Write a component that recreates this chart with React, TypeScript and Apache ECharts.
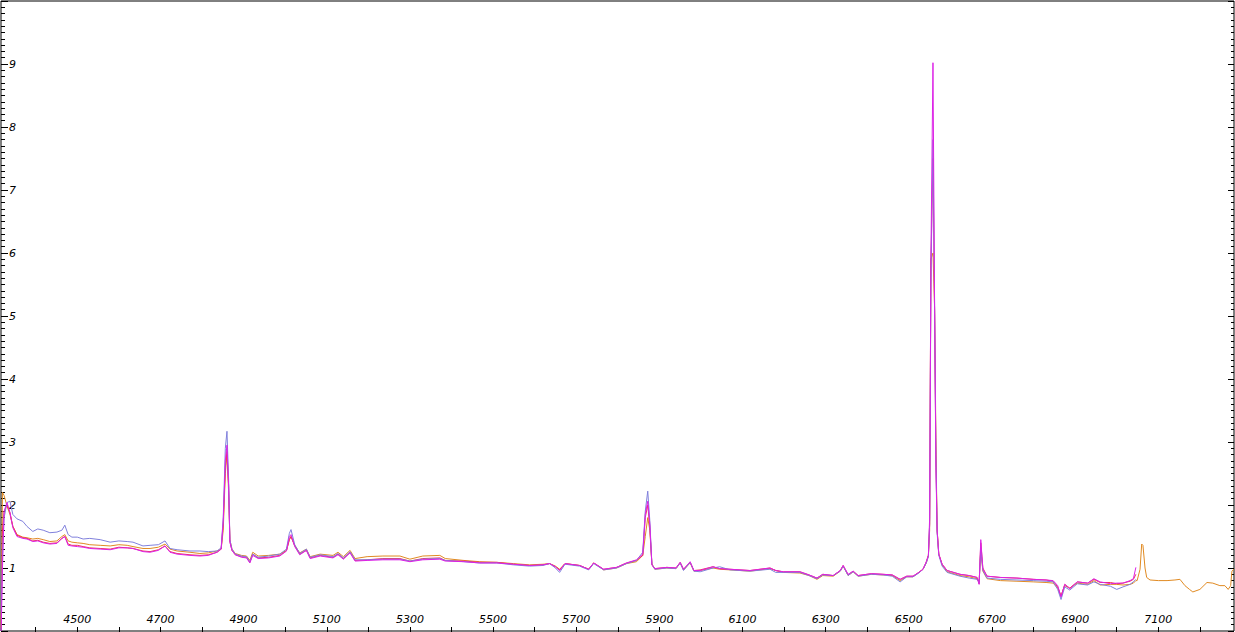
import React, { useEffect, useRef } from "react";
import * as echarts from "echarts";

const wavelengths = [
  4317, 4320, 4324, 4331, 4338, 4345, 4355, 4369, 4379, 4393,
  4405, 4418, 4434, 4451, 4463, 4470, 4478, 4487, 4500, 4514,
  4530, 4555, 4579, 4600, 4620, 4634, 4658, 4675, 4695, 4711,
  4723, 4740, 4771, 4795, 4815, 4836, 4846, 4851, 4856, 4860,
  4864, 4867, 4872, 4880, 4895, 4907, 4915, 4922, 4935, 4960,
  4987, 5003, 5010, 5014, 5023, 5035, 5051, 5060, 5084, 5115,
  5127, 5140, 5156, 5168, 5197, 5235, 5276, 5300, 5331, 5372,
  5385, 5430, 5468, 5509, 5549, 5588, 5620, 5636, 5650, 5660,
  5673, 5708, 5730, 5742, 5766, 5797, 5821, 5845, 5860, 5866,
  5872, 5877, 5882, 5889, 5918, 5940, 5950, 5958, 5974, 5983,
  5998, 6029, 6045, 6070, 6118, 6166, 6180, 6198, 6238, 6260,
  6279, 6293, 6318, 6335, 6342, 6354, 6366, 6378, 6410, 6438,
  6460, 6479, 6495, 6510, 6524, 6534, 6542, 6547, 6550, 6553,
  6558, 6562, 6565, 6568, 6572, 6580, 6592, 6623, 6645, 6664,
  6669, 6673, 6678, 6688, 6720, 6760, 6799, 6830, 6847, 6858,
  6866, 6875, 6887, 6905, 6930, 6945, 6960, 6985, 7000, 7015,
  7032, 7040, 7046,
];

const orangeFlux = [
  0.05, 2.2, 2.15, 1.98, 1.85, 1.66, 1.53, 1.49, 1.48, 1.46,
  1.47, 1.45, 1.42, 1.43, 1.5, 1.53, 1.43, 1.41, 1.4, 1.39,
  1.37, 1.36, 1.35, 1.37, 1.36, 1.34, 1.31, 1.31, 1.33, 1.38,
  1.3, 1.27, 1.25, 1.23, 1.24, 1.27, 1.3, 1.6, 2.5, 2.8,
  2.2, 1.45, 1.3, 1.23, 1.2, 1.19, 1.12, 1.25, 1.19, 1.2,
  1.22, 1.28, 1.45, 1.5, 1.36, 1.24, 1.3, 1.18, 1.22, 1.2,
  1.25, 1.18, 1.28, 1.15, 1.18, 1.19, 1.19, 1.14, 1.19, 1.2,
  1.15, 1.12, 1.1, 1.09, 1.07, 1.05, 1.06, 1.07, 1.03, 0.98,
  1.07, 1.04, 0.98, 1.08, 0.97, 1.0, 1.07, 1.1, 1.2, 1.5,
  1.8, 1.6, 1.07, 0.98, 1.0, 0.99, 1.08, 0.97, 1.08, 0.95,
  0.96, 1.0, 0.98, 0.97, 0.95, 0.99, 0.96, 0.93, 0.92, 0.88,
  0.82, 0.88, 0.87, 0.95, 1.03, 0.88, 0.94, 0.87, 0.9, 0.89,
  0.88, 0.8, 0.86, 0.86, 0.93, 0.98, 1.08, 1.2, 1.6, 5.9,
  6.0, 5.1, 3.07, 1.6, 1.22, 1.05, 0.94, 0.88, 0.86, 0.83,
  0.78, 1.3, 0.95, 0.83, 0.8, 0.79, 0.78, 0.77, 0.76, 0.68,
  0.56, 0.72, 0.68, 0.76, 0.74, 0.8, 0.73, 0.74, 0.74, 0.73,
  0.74, 0.76, 0.8,
];

const redFlux = [
  0.1, 1.6, 1.9, 2.0, 1.88, 1.66, 1.52, 1.48, 1.47, 1.43,
  1.44, 1.41, 1.39, 1.4, 1.47, 1.5, 1.38, 1.36, 1.36, 1.34,
  1.32, 1.31, 1.3, 1.33, 1.32, 1.31, 1.27, 1.26, 1.29, 1.35,
  1.26, 1.23, 1.21, 1.2, 1.21, 1.25, 1.3, 1.7, 2.6, 2.85,
  2.3, 1.42, 1.28, 1.21, 1.18, 1.17, 1.09, 1.22, 1.16, 1.17,
  1.2, 1.27, 1.45, 1.5, 1.35, 1.22, 1.28, 1.16, 1.2, 1.17,
  1.22, 1.15, 1.25, 1.12, 1.13, 1.15, 1.15, 1.11, 1.15, 1.16,
  1.12, 1.11, 1.09, 1.09, 1.06, 1.04, 1.05, 1.07, 1.02, 0.97,
  1.07, 1.04, 0.98, 1.08, 0.98, 1.01, 1.08, 1.12, 1.2, 1.8,
  2.0, 1.65, 1.05, 0.99, 1.01, 1.0, 1.09, 0.98, 1.09, 0.96,
  0.97, 1.02, 0.99, 0.98, 0.96, 1.0, 0.96, 0.94, 0.94, 0.89,
  0.84, 0.9, 0.88, 0.96, 1.04, 0.89, 0.95, 0.88, 0.91, 0.9,
  0.89, 0.82, 0.87, 0.87, 0.93, 0.98, 1.1, 1.2, 1.7, 5.8,
  7.5, 5.0, 2.8, 1.6, 1.22, 1.06, 0.96, 0.9, 0.88, 0.85,
  0.75, 1.4, 1.0, 0.87, 0.85, 0.84, 0.82, 0.81, 0.79, 0.7,
  0.55, 0.74, 0.68, 0.78, 0.76, 0.82, 0.77, 0.77, 0.75, 0.76,
  0.79, 0.82, 0.9,
];

const blueFlux = [
  0.3, 1.2, 1.8, 2.04, 2.06, 1.85, 1.78, 1.74, 1.66, 1.58,
  1.62, 1.6, 1.56, 1.57, 1.6, 1.68, 1.53, 1.49, 1.49, 1.46,
  1.47, 1.45, 1.41, 1.43, 1.42, 1.41, 1.35, 1.36, 1.37, 1.43,
  1.31, 1.29, 1.27, 1.27, 1.26, 1.27, 1.32, 1.8, 2.9, 3.17,
  2.4, 1.45, 1.3, 1.22, 1.19, 1.18, 1.1, 1.22, 1.17, 1.19,
  1.22, 1.3, 1.55, 1.61, 1.37, 1.23, 1.3, 1.17, 1.21, 1.18,
  1.23, 1.16, 1.26, 1.13, 1.13, 1.14, 1.14, 1.11, 1.14, 1.15,
  1.12, 1.1, 1.08, 1.08, 1.05, 1.03, 1.04, 1.07, 1.0, 0.93,
  1.06, 1.03, 0.97, 1.07, 0.97, 1.0, 1.07, 1.12, 1.25, 1.9,
  2.22, 1.75, 1.06, 0.98, 1.0, 0.99, 1.08, 0.96, 1.09, 0.95,
  0.94, 1.0, 1.02, 0.97, 0.95, 0.98, 0.93, 0.93, 0.93, 0.88,
  0.83, 0.89, 0.88, 0.95, 1.03, 0.88, 0.94, 0.87, 0.9, 0.89,
  0.87, 0.78, 0.86, 0.86, 0.92, 0.98, 1.08, 1.18, 1.7, 5.5,
  7.8, 5.1, 2.8, 1.55, 1.2, 1.03, 0.93, 0.87, 0.84, 0.82,
  0.77, 1.3, 0.96, 0.84, 0.82, 0.81, 0.8, 0.79, 0.78, 0.66,
  0.5, 0.7, 0.65, 0.75, 0.73, 0.78, 0.74, 0.71, 0.66, 0.7,
  0.74, 0.78, 0.82,
];

const magentaFlux = [
  0.0, 1.0, 1.9, 2.04, 1.88, 1.64, 1.5, 1.47, 1.46, 1.42,
  1.43, 1.4, 1.38, 1.39, 1.47, 1.5, 1.36, 1.35, 1.34, 1.33,
  1.31, 1.3, 1.29, 1.32, 1.32, 1.31, 1.26, 1.25, 1.28, 1.35,
  1.25, 1.22, 1.2, 1.19, 1.2, 1.25, 1.3, 1.75, 2.7, 2.95,
  2.3, 1.41, 1.28, 1.21, 1.17, 1.16, 1.08, 1.2, 1.15, 1.16,
  1.19, 1.27, 1.5, 1.53, 1.34, 1.21, 1.28, 1.15, 1.19, 1.16,
  1.21, 1.14, 1.24, 1.11, 1.12, 1.13, 1.13, 1.1, 1.13, 1.14,
  1.11, 1.1, 1.08, 1.08, 1.06, 1.04, 1.05, 1.07, 1.02, 0.96,
  1.07, 1.04, 0.98, 1.08, 0.98, 1.01, 1.08, 1.13, 1.22, 1.85,
  2.06, 1.7, 1.05, 0.99, 1.01, 1.0, 1.09, 0.98, 1.1, 0.96,
  0.96, 1.02, 0.99, 0.98, 0.96, 1.0, 0.96, 0.94, 0.94, 0.89,
  0.84, 0.9, 0.88, 0.96, 1.04, 0.9, 0.95, 0.88, 0.91, 0.9,
  0.89, 0.82, 0.87, 0.87, 0.93, 0.98, 1.1, 1.2, 1.8, 5.9,
  9.02, 5.1, 2.6, 1.6, 1.22, 1.06, 0.96, 0.9, 0.88, 0.85,
  0.74, 1.45, 0.98, 0.87, 0.85, 0.84, 0.82, 0.81, 0.8, 0.72,
  0.54, 0.74, 0.67, 0.78, 0.76, 0.83, 0.78, 0.75, 0.76, 0.76,
  0.8, 0.83, 1.01,
];

const orangeTailWave = [
  7049, 7056, 7060, 7063, 7068, 7072, 7080, 7100, 7121, 7140,
  7152, 7164, 7175, 7183, 7200, 7217, 7231, 7248, 7260, 7268,
  7274, 7277, 7282,
];
const orangeTailFlux = [
  0.8, 0.98, 1.38, 1.36, 1.0, 0.85, 0.81, 0.8, 0.8, 0.81,
  0.82, 0.72, 0.66, 0.62, 0.66, 0.77, 0.76, 0.72, 0.72, 0.66,
  0.72, 0.95, 0.98,
];

const xTickValues = [
  4400, 4500, 4600, 4700, 4800, 4900, 5000, 5100, 5200, 5300,
  5400, 5500, 5600, 5700, 5800, 5900, 6000, 6100, 6200, 6300,
  6400, 6500, 6600, 6700, 6800, 6900, 7000, 7100, 7200,
];
const xLabelValues = [4500, 4700, 4900, 5100, 5300, 5500, 5700, 5900, 6100, 6300, 6500, 6700, 6900, 7100];
const yLabelValues = [1, 2, 3, 4, 5, 6, 7, 8, 9];

const X_MIN = 4316.5;
const X_MAX = 7282;

const seriesDefs = [
  { name: "orange", color: "#e08a22", flux: orangeFlux },
  { name: "red", color: "#f0305a", flux: redFlux },
  { name: "blue", color: "#8080dc", flux: blueFlux },
  { name: "magenta", color: "#dc22e6", flux: magentaFlux },
];

const labelFont = {
  fontFamily: "DejaVu Sans",
  fontStyle: "italic" as const,
  fontSize: 11,
  color: "#000",
};

export default function App() {
  const ref = useRef<HTMLDivElement>(null);

  useEffect(() => {
    if (!ref.current) return;
    const chart = echarts.init(ref.current, undefined, { renderer: "svg" });

    const series: any[] = seriesDefs.map((s) => {
      const data: number[][] = wavelengths.map((w, i) => [w, s.flux[i]]);
      if (s.name === "orange") {
        orangeTailWave.forEach((w, i) => data.push([w, orangeTailFlux[i]]));
      }
      return {
        type: "line",
        name: s.name,
        data,
        xAxisIndex: 0,
        yAxisIndex: 0,
        symbol: "none",
        showSymbol: false,
        lineStyle: { color: s.color, width: 1 },
        itemStyle: { color: s.color },
        silent: true,
        clip: true,
      };
    });

    chart.setOption({
      animation: false,
      backgroundColor: "#ffffff",
      grid: {
        left: 1,
        right: 1,
        top: 1,
        bottom: 1,
        show: true,
        borderColor: "#000",
        borderWidth: 1,
        backgroundColor: "#ffffff",
        containLabel: false,
      },
      xAxis: [
        {
          type: "value",
          position: "bottom",
          min: X_MIN,
          max: X_MAX,
          axisLine: { show: false },
          splitLine: { show: false },
          axisTick: {
            show: true,
            inside: true,
            length: 4,
            customValues: xTickValues,
            lineStyle: { color: "#000", width: 1 },
          },
          axisLabel: {
            show: true,
            inside: true,
            margin: 6,
            customValues: xLabelValues,
            formatter: (v: number) => String(Math.round(v)),
            ...labelFont,
          },
        },
        {
          type: "value",
          position: "top",
          min: X_MIN,
          max: X_MAX,
          axisLine: { show: false },
          splitLine: { show: false },
          axisTick: {
            show: true,
            inside: true,
            length: 4,
            customValues: xTickValues,
            lineStyle: { color: "#000", width: 1 },
          },
          axisLabel: { show: false },
        },
      ],
      yAxis: [
        {
          type: "value",
          position: "left",
          min: 0,
          max: 10,
          interval: 1,
          axisLine: { show: false },
          splitLine: { show: false },
          axisTick: { show: true, inside: true, length: 7, lineStyle: { color: "#000", width: 1 } },
          minorTick: { show: true, splitNumber: 10, length: 4, lineStyle: { color: "#000", width: 1 } },
          axisLabel: {
            show: true,
            inside: true,
            margin: 8,
            customValues: yLabelValues,
            formatter: (v: number) => String(Math.round(v)),
            ...labelFont,
          },
        },
        {
          type: "value",
          position: "right",
          min: 0,
          max: 10,
          interval: 1,
          axisLine: { show: false },
          splitLine: { show: false },
          axisTick: { show: true, inside: true, length: 6, lineStyle: { color: "#000", width: 1 } },
          minorTick: { show: true, splitNumber: 10, length: 3, lineStyle: { color: "#000", width: 1 } },
          axisLabel: { show: false },
        },
      ],
      series,
    });

    return () => {
      chart.dispose();
    };
  }, []);

  return (
    <div
      ref={ref}
      style={{ position: "absolute", left: 0, top: 0, width: 1235, height: 632, background: "#fff" }}
    />
  );
}
